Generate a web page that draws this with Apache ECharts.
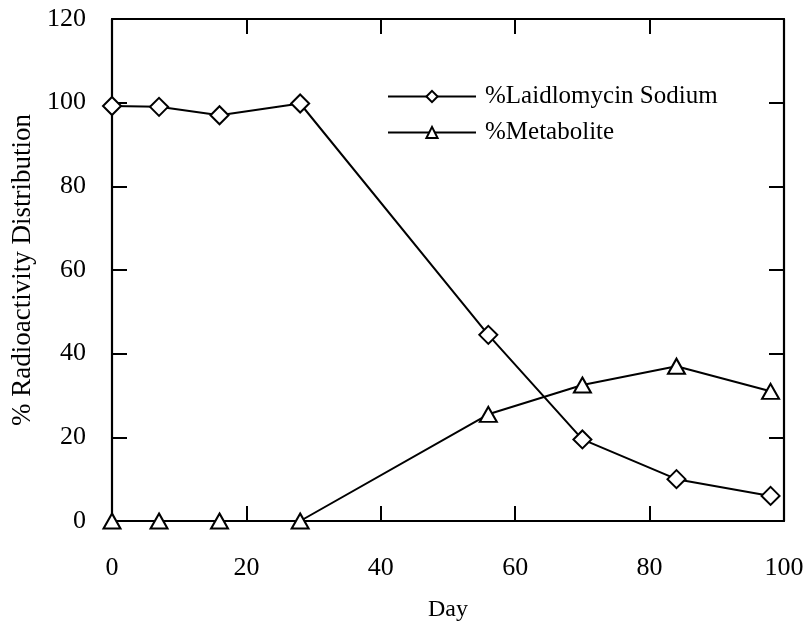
<!DOCTYPE html>
<html><head><meta charset="utf-8">
<script src="https://cdn.jsdelivr.net/npm/echarts@6/dist/echarts.min.js"></script>
<style>html,body{margin:0;padding:0;background:#fff}#c{width:810px;height:623px}</style>
</head><body><div id="c"></div>
<script>
const days = [0, 7, 16, 28, 56, 70, 84, 98];
const laidlomycin = [99.2, 99.0, 97.0, 99.8, 44.5, 19.5, 10.0, 6.0];
const metabolite = [0, 0, 0, 0, 25.5, 32.5, 37.0, 31.0];
const xTicks = [0, 20, 40, 60, 80, 100];
const yTicks = [0, 20, 40, 60, 80, 100, 120];
const seriesNames = ['%Laidlomycin Sodium', '%Metabolite'];

const font = 'Liberation Serif';
const chart = echarts.init(document.getElementById('c'));
const axisLine = {show: true, onZero: false, lineStyle: {color: '#000', width: 2.2}};
const tick = {show: true, inside: true, length: 15, lineStyle: {color: '#000', width: 2}};
chart.setOption({
  animation: false,
  backgroundColor: '#fff',
  grid: {left: 112, right: 26, top: 19, bottom: 102, containLabel: false, outerBoundsMode: 'none'},
  legend: {
    orient: 'vertical', left: 382, top: 79, itemWidth: 88, itemHeight: 14, itemGap: 11,
    textStyle: {fontFamily: font, fontSize: 25, color: '#000', padding: [0, 0, 0, 4]},
    data: seriesNames
  },
  xAxis: [{
    type: 'value', min: 0, max: 100, interval: 20,
    name: 'Day', nameLocation: 'middle', nameGap: 77,
    nameTextStyle: {fontFamily: font, fontSize: 24, color: '#000'},
    axisLine, axisTick: tick, splitLine: {show: false},
    axisLabel: {fontFamily: font, fontSize: 26, color: '#000', margin: 34,
      formatter: v => xTicks.includes(v) ? String(v) : ''}
  }, {
    type: 'value', position: 'top', min: 0, max: 100, interval: 20,
    axisLine, axisTick: tick, splitLine: {show: false}, axisLabel: {show: false}
  }],
  yAxis: [{
    type: 'value', min: 0, max: 120, interval: 20,
    name: '% Radioactivity Distribution', nameLocation: 'middle', nameGap: 76,
    nameTextStyle: {fontFamily: font, fontSize: 27, color: '#000'},
    axisLine, axisTick: tick, splitLine: {show: false},
    axisLabel: {fontFamily: font, fontSize: 26, color: '#000', margin: 26,
      formatter: v => yTicks.includes(v) ? String(v) : ''}
  }, {
    type: 'value', position: 'right', min: 0, max: 120, interval: 20,
    axisLine, axisTick: tick, splitLine: {show: false}, axisLabel: {show: false}
  }],
  series: [{
    name: seriesNames[0], type: 'line',
    data: days.map((d, i) => [d, laidlomycin[i]]),
    symbol: 'diamond', symbolSize: [18, 18], showAllSymbol: true,
    lineStyle: {color: '#000', width: 2},
    itemStyle: {color: '#fff', borderColor: '#000', borderWidth: 2}
  }, {
    name: seriesNames[1], type: 'line',
    data: days.map((d, i) => [d, metabolite[i]]),
    symbol: 'triangle', symbolSize: [17, 15], showAllSymbol: true,
    lineStyle: {color: '#000', width: 2},
    itemStyle: {color: '#fff', borderColor: '#000', borderWidth: 2}
  }]
});
</script></body></html>
